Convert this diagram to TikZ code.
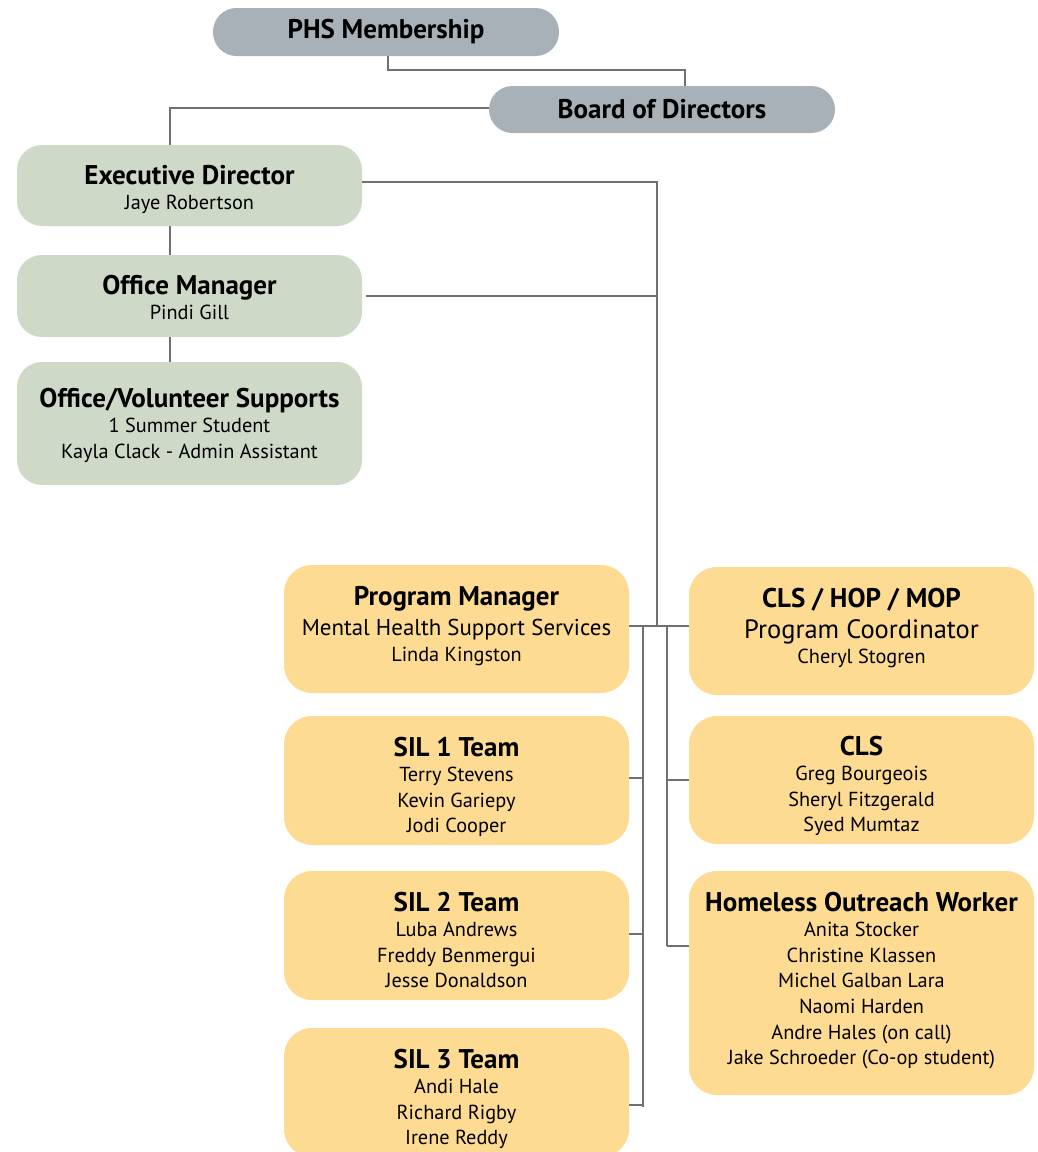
\documentclass[tikz,border=0pt]{standalone}
\usepackage{fontspec}
\setmainfont{PT Sans}
\definecolor{greyc}{HTML}{A8B1B8}
\definecolor{greenc}{HTML}{CFD9C8}
\definecolor{yellowc}{HTML}{FDDB93}
\definecolor{linec}{HTML}{707070}
\newcommand{\ttl}[1]{{\bfseries\fontsize{27}{30}\selectfont #1}}
\newcommand{\midline}[2]{{\fontsize{#1}{27}\selectfont #2}}
\newcommand{\card}[1]{\vtop{\halign{\hfil##\hfil\cr#1\crcr}}}
\begin{document}
\begin{tikzpicture}[x=1pt,y=-1pt,
  box/.style={rounded corners=25pt, inner sep=0pt, minimum width=345pt},
  pill/.style={box, fill=greyc, rounded corners=23.5pt, minimum width=346pt,
    minimum height=48pt, font=\bfseries\fontsize{27}{30}\selectfont, text=black},
  gbox/.style={box, fill=greenc},
  ybox/.style={box, fill=yellowc, rounded corners=28pt},
  txt/.style={anchor=base, inner sep=0pt, text=black, font=\fontsize{20.3}{25.6}\selectfont},
  conn/.style={draw=linec, line width=2.2pt}]
\useasboundingbox (0,0) rectangle (1037,1152);
\clip (0,0) rectangle (1037,1152);

% top
\node[pill] (phs) at (386,32) {PHS Membership};
\node[pill, minimum height=47pt] (bod) at (662,109.5) {Board of Directors};

% green column
\node[gbox, minimum height=81pt] (ed) at (189.5,185.5) {};
\node[gbox, minimum height=82pt] (om) at (189.5,296) {};
\node[gbox, minimum height=123pt] (ov) at (189.5,423.5) {};
\node[txt] (ed-t) at (189.5,184) {\card{\ttl{Executive Director}\cr Jaye Robertson}};
\node[txt] (om-t) at (189.5,294) {\card{\ttl{Office Manager}\cr Pindi Gill}};
\node[txt] (ov-t) at (189.5,407) {\card{\ttl{Office/Volunteer Supports}\cr 1 Summer Student\cr Kayla Clack - Admin Assistant}};

% yellow boxes
\node[ybox, minimum height=128pt] (pm) at (456.5,629) {};
\node[ybox, minimum height=128pt] (chm) at (861.5,631) {};
\node[ybox, minimum height=129pt] (sil1) at (456.5,780.5) {};
\node[ybox, minimum height=128pt] (cls) at (861.5,780) {};
\node[ybox, minimum height=129pt] (sil2) at (456.5,935.5) {};
\node[ybox, minimum height=224pt] (hom) at (861.5,983) {};
\node[ybox, minimum height=129pt] (sil3) at (456.5,1092.5) {};

\node[txt] (pm-t) at (456.5,605) {\card{\ttl{Program Manager}\cr\noalign{\vskip5pt}\midline{22.9}{Mental Health Support Services}\cr Linda Kingston}};
\node[txt] (chm-t) at (861.5,607) {\card{\ttl{CLS / HOP / MOP}\cr\noalign{\vskip6pt}\midline{26.5}{Program Coordinator}\cr\noalign{\vskip-1pt} Cheryl Stogren}};
\node[txt] (sil1-t) at (456.5,756) {\card{\ttl{SIL 1 Team}\cr Terry Stevens\cr Kevin Gariepy\cr Jodi Cooper}};
\node[txt] (cls-t) at (861.5,755) {\card{\ttl{CLS}\cr Greg Bourgeois\cr Sheryl Fitzgerald\cr Syed Mumtaz}};
\node[txt] (sil2-t) at (456.5,911) {\card{\ttl{SIL 2 Team}\cr Luba Andrews\cr Freddy Benmergui\cr Jesse Donaldson}};
\node[txt] (hom-t) at (861.5,911) {\card{\ttl{Homeless Outreach Worker}\cr Anita Stocker\cr Christine Klassen\cr Michel Galban Lara\cr Naomi Harden\cr Andre Hales (on call)\cr Jake Schroeder (Co-op student)}};
\node[txt] (sil3-t) at (456.5,1068) {\card{\ttl{SIL 3 Team}\cr Andi Hale\cr Richard Rigby\cr Irene Reddy}};

% junction coordinates
\coordinate (j) at (657,626);
\coordinate (bl) at (643,626);
\coordinate (br) at (667,626);

% connectors
\draw[conn] ([xshift=2pt]phs.south) -- ++(0,14) -| ([xshift=23pt]bod.north);
\draw[conn] ([yshift=1.5pt]bod.west) -| ([xshift=-19.5pt]ed.north);
\draw[conn] ([xshift=-19.5pt]ed.south) -- ([xshift=-19.5pt]om.north);
\draw[conn] ([xshift=-19.5pt]om.south) -- ([xshift=-19.5pt]ov.north);
\draw[conn] ([yshift=3.5pt]ed.east) -| (j);
\draw[conn] ([xshift=4pt]om.east) -- (om.east -| j);
\draw[conn] (pm.east |- j) -- (chm.west |- j);
% left bus
\draw[conn] (bl) -- ([yshift=-14.5pt]sil3.east -| bl);
\draw[conn] ([yshift=2.5pt]sil1.east) -- ([yshift=2.5pt]sil1.east -| bl);
\draw[conn] ([yshift=1.5pt]sil2.east) -- ([yshift=1.5pt]sil2.east -| bl);
\draw[conn] ([yshift=-12.5pt]sil3.east) -- ([yshift=-12.5pt]sil3.east -| bl);
% right bus
\draw[conn] (br) -- ([yshift=37pt]hom.west -| br);
\draw[conn] (cls.west) -- (cls.west -| br);
\draw[conn] ([yshift=37pt]hom.west) -- ([yshift=37pt]hom.west -| br);
\end{tikzpicture}
\end{document}
